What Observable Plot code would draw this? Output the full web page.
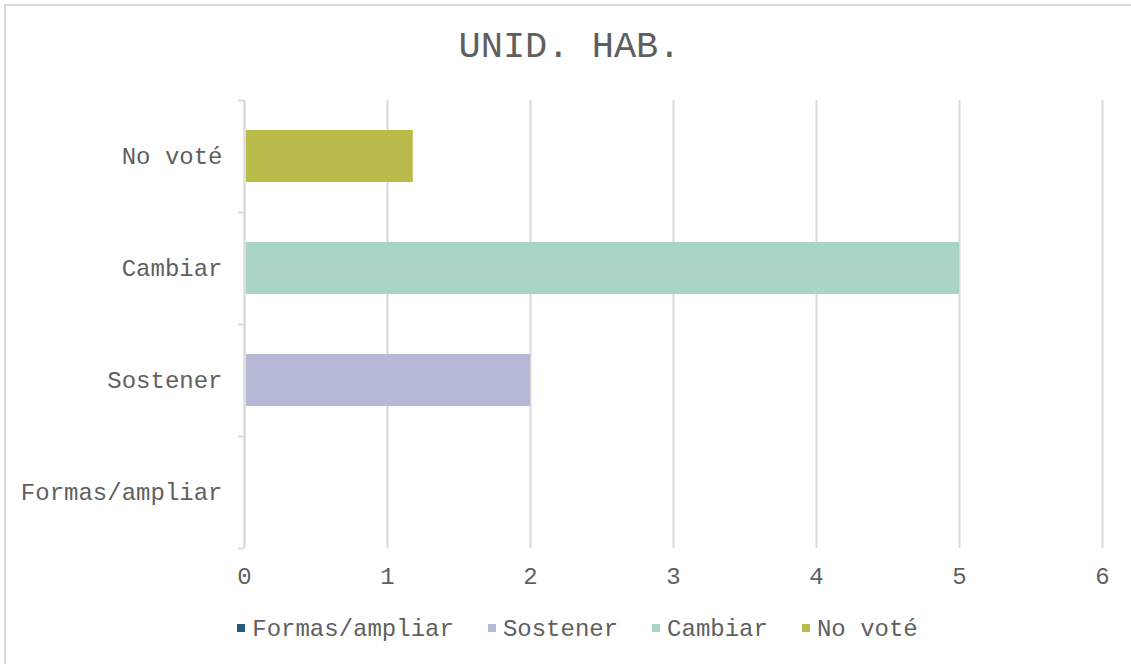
<!DOCTYPE html>
<html>
<head>
<meta charset="utf-8">
<script src="https://cdn.jsdelivr.net/npm/d3@7"></script>
<script src="https://cdn.jsdelivr.net/npm/@observablehq/plot@0.6"></script>
<style>
  html, body { margin: 0; padding: 0; background: #fff; overflow: hidden; }
  #wrap { position: relative; width: 1131px; height: 664px; overflow: hidden; font-family: "Liberation Mono", "Courier New", monospace; color: #5f5f5f; }
  #border { position: absolute; left: 4px; top: 4px; width: 1140px; height: 680px; border: 2px solid #d9d9d9; box-sizing: border-box; }
  #title { position: absolute; left: 4px; width: 1131px; top: 25px; text-align: center; font-size: 37px; line-height: 44px; }
  #chart { position: absolute; left: 0; top: 80px; }
  #legend { position: absolute; left: 12px; width: 1131px; top: 615px; text-align: center; font-size: 24px; line-height: 30px; white-space: nowrap; }
  .item { display: inline-block; margin: 0 17px; }
  .sw { display: inline-block; width: 8px; height: 8px; margin-right: 7px; vertical-align: middle; position: relative; top: -2px; }
</style>
</head>
<body>
<div id="wrap">
  <div id="border"></div>
  <div id="title"></div>
  <div id="chart"></div>
  <div id="legend"></div>
</div>
<script>
const title = "UNID. HAB.";
const categories = ["Formas/ampliar", "Sostener", "Cambiar", "No voté"];
const values = [0, 2, 5, 1.18];
const colors = ["#1f5c80", "#b5b9d6", "#aad4c6", "#b9bb4a"];
const xTicks = [0, 1, 2, 3, 4, 5, 6];

const data = categories.map((c, i) => ({category: c, value: values[i]}));
const topToBottom = categories.slice().reverse();

document.getElementById("title").textContent = title;

const font = '"Liberation Mono", "Courier New", monospace';
const grid = "#d9d9d9";

const plot = Plot.plot({
  width: 1131,
  height: 518,
  marginLeft: 244,
  marginRight: 29,
  marginTop: 20,
  marginBottom: 50,
  style: {fontFamily: font, fontSize: "24px", color: "#5f5f5f", background: "transparent"},
  x: {domain: [0, 6], ticks: xTicks},
  y: {domain: topToBottom, paddingInner: 0.54, paddingOuter: 0.27},
  color: {domain: categories, range: colors},
  marks: [
    Plot.gridX(xTicks, {stroke: grid, strokeOpacity: 1, strokeWidth: 2}),
    Plot.ruleX([0], {stroke: grid, strokeWidth: 2}),
    Plot.ruleY(topToBottom, {y: d => d, dy: 56, x1: 0, x2: 0, insetLeft: -6, stroke: grid, strokeWidth: 2}),
    Plot.ruleY(topToBottom.slice(0, 1), {y: d => d, dy: -56, x1: 0, x2: 0, insetLeft: -6, stroke: grid, strokeWidth: 2}),
    Plot.barX(data, {x: "value", y: "category", fill: "category", insetLeft: 2}),
    Plot.axisY({tickSize: 0, tickPadding: 22, label: null, fontSize: 24}),
    Plot.axisX({tickSize: 0, tickPadding: 18, label: null, fontSize: 24, ticks: xTicks, tickFormat: d3.format("d")})
  ]
});
document.getElementById("chart").appendChild(plot);

const legend = document.getElementById("legend");
categories.forEach((c, i) => {
  const it = document.createElement("span");
  it.className = "item";
  const sw = document.createElement("span");
  sw.className = "sw";
  sw.style.background = colors[i];
  it.appendChild(sw);
  it.appendChild(document.createTextNode(c));
  legend.appendChild(it);
});
</script>
</body>
</html>
